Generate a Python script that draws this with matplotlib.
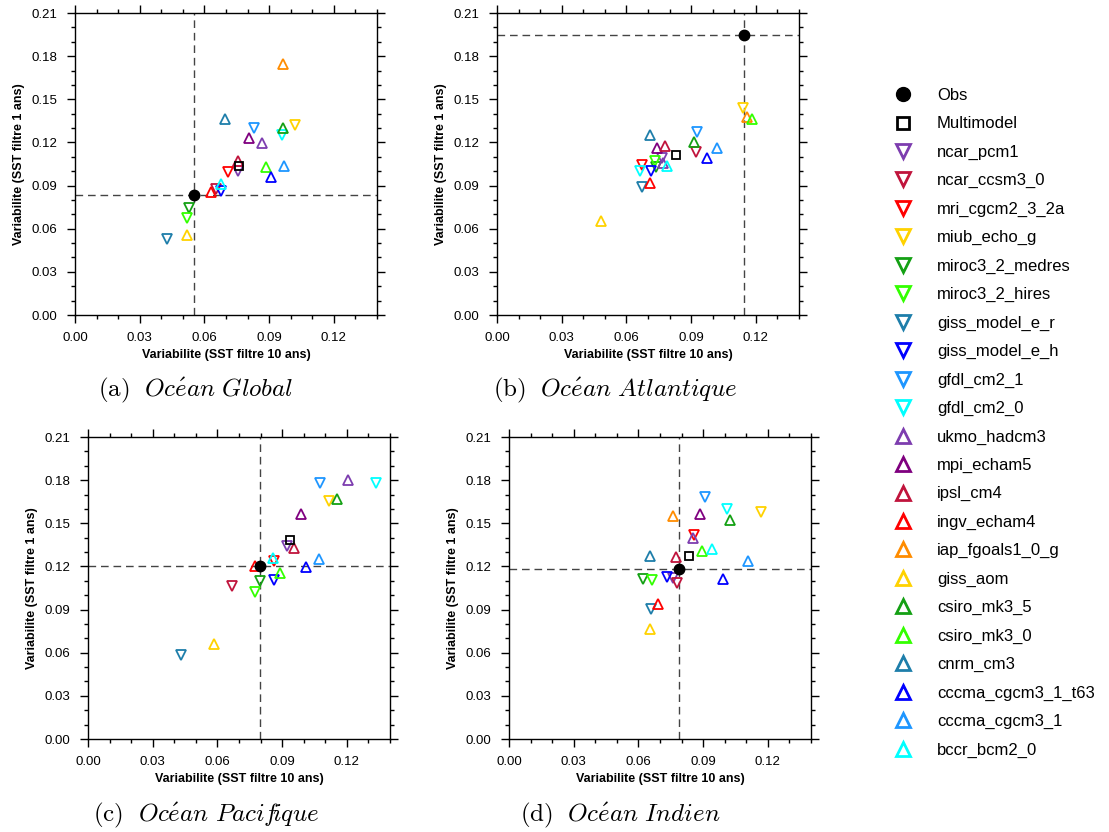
import numpy as np
import matplotlib
matplotlib.use("Agg")
import matplotlib.pyplot as plt
from matplotlib.lines import Line2D
from matplotlib.ticker import MultipleLocator, FormatStrFormatter

plt.rcParams['font.family'] = ['Liberation Sans', 'DejaVu Sans']
plt.rcParams['mathtext.fontset'] = 'cm'

# ---------------------------------------------------------------- models
models = ["ncar_pcm1", "ncar_ccsm3_0", "mri_cgcm2_3_2a", "miub_echo_g",
          "miroc3_2_medres", "miroc3_2_hires", "giss_model_e_r", "giss_model_e_h",
          "gfdl_cm2_1", "gfdl_cm2_0",
          "ukmo_hadcm3", "mpi_echam5", "ipsl_cm4", "ingv_echam4", "iap_fgoals1_0_g",
          "giss_aom", "csiro_mk3_5", "csiro_mk3_0", "cnrm_cm3", "cccma_cgcm3_1_t63",
          "cccma_cgcm3_1", "bccr_bcm2_0"]

model_colors = ["#7D3DAF", "#C0143C", "#FF0000", "#FFD200", "#14A014", "#33FF00",
                "#1E7EAA", "#0000FF", "#1E96FF", "#00FFFF",
                "#7D3DAF", "#7F007F", "#C0143C", "#FF0000", "#FF8C00", "#FFD200",
                "#14A014", "#33FF00", "#1E7EAA", "#0000FF", "#1E96FF", "#00FFFF"]

model_markers = ["v"] * 10 + ["^"] * 12

nan = np.nan

# ---------------------------------------------------------------- variability (x: 10-yr filter, y: 1-yr filter)
global_x10 = [0.0756, 0.0655, 0.0708, 0.1018, 0.0530, 0.0518, 0.0425, 0.0675, 0.0831, 0.0958,
              0.0865, 0.0807, 0.0756, 0.0629, 0.0966, 0.0518, 0.0966, 0.0884, 0.0694, 0.0910,
              0.0969, 0.0677]
global_y1 = [0.1003, 0.0876, 0.0996, 0.1323, 0.0742, 0.0674, 0.0531, 0.0864, 0.1298, 0.1254,
             0.1198, 0.1233, 0.1073, 0.0853, 0.1745, 0.0556, 0.1298, 0.1031, 0.1365, 0.0962,
             0.1038, 0.0909]

atlantic_x10 = [0.0763, 0.0924, 0.0674, 0.1141, 0.0739, 0.0733, 0.0674, 0.0716, 0.0926, 0.0665,
                0.0771, 0.0743, 0.0778, 0.0710, 0.1161, 0.0482, 0.0913, 0.1183, 0.0710, 0.0972,
                0.1019, 0.0786]
atlantic_y1 = [0.1090, 0.1131, 0.1045, 0.1439, 0.1031, 0.1073, 0.0888, 0.1001, 0.1273, 0.1003,
               0.1055, 0.1159, 0.1173, 0.0916, 0.1377, 0.0654, 0.1201, 0.1365, 0.1254, 0.1090,
               0.1159, 0.1038]

pacific_x10 = [0.0921, 0.0669, 0.0861, 0.1117, 0.0799, 0.0776, 0.0433, 0.0861, 0.1074, 0.1337,
               0.1205, 0.0987, 0.0954, 0.0773, nan, 0.0586, 0.1156, 0.0892, nan, 0.1011,
               0.1071, 0.0859]
pacific_y1 = [0.1342, 0.1066, 0.1240, 0.1653, 0.1099, 0.1020, 0.0582, 0.1106, 0.1778, 0.1778,
              0.1801, 0.1565, 0.1326, 0.1203, nan, 0.0663, 0.1671, 0.1157, nan, 0.1194,
              0.1252, 0.1257]

indian_x10 = [0.0762, 0.0780, 0.0856, 0.1168, 0.0623, 0.0663, 0.0660, 0.0734, 0.0910, 0.1009,
              0.0853, 0.0885, 0.0774, 0.0692, 0.0762, 0.0652, 0.1023, 0.0895, 0.0652, 0.0991,
              0.1108, 0.0941]
indian_y1 = [0.1120, 0.1083, 0.1416, 0.1581, 0.1113, 0.1106, 0.0904, 0.1129, 0.1685, 0.1601,
             0.1398, 0.1565, 0.1268, 0.0939, 0.1551, 0.0765, 0.1523, 0.1305, 0.1273, 0.1111,
             0.1240, 0.1323]

obs_x10 = [0.0553, 0.1146, 0.0799, 0.0790]
obs_y1 = [0.0837, 0.1949, 0.1205, 0.1180]
multi_x10 = [0.0760, 0.0828, 0.0936, 0.0834]
multi_y1 = [0.1038, 0.1110, 0.1386, 0.1273]

captions = [r"$\mathrm{(a)}\ \ \mathit{Oc\acute{e}an\ Global}$",
            r"$\mathrm{(b)}\ \ \mathit{Oc\acute{e}an\ Atlantique}$",
            r"$\mathrm{(c)}\ \ \mathit{Oc\acute{e}an\ Pacif\!ique}$",
            r"$\mathrm{(d)}\ \ \mathit{Oc\acute{e}an\ Indien}$"]
xlabel = "Variabilite (SST filtre 10 ans)"
ylabel = "Variabilite (SST filtre 1 ans)"

panels_x = [global_x10, atlantic_x10, pacific_x10, indian_x10]
panels_y = [global_y1, atlantic_y1, pacific_y1, indian_y1]

# ---------------------------------------------------------------- layout (pixels)
W, H = 1109, 832
fig = plt.figure(figsize=(W / 100, H / 100), dpi=100)

boxes = [(75, 13), (497, 13), (88, 437), (509, 437)]   # left, top of each axes
size = 302
caption_pos = [(196, 390), (615, 390), (206, 815), (620, 815)]

for i in range(4):
    x0, y0 = boxes[i]
    ax = fig.add_axes([x0 / W, 1 - (y0 + size) / H, size / W, size / H])
    ax.set_xlim(0, 0.14)
    ax.set_ylim(0, 0.21)
    ax.xaxis.set_major_locator(MultipleLocator(0.03))
    ax.xaxis.set_minor_locator(MultipleLocator(0.01))
    ax.yaxis.set_major_locator(MultipleLocator(0.03))
    ax.yaxis.set_minor_locator(MultipleLocator(0.01))
    ax.xaxis.set_major_formatter(FormatStrFormatter("%.2f"))
    ax.yaxis.set_major_formatter(FormatStrFormatter("%.2f"))
    ax.tick_params(which="both", direction="out", top=True, right=True,
                   labeltop=False, labelright=False, width=1.0, labelsize=9.5)
    ax.tick_params(which="major", length=6, pad=6.5)
    ax.tick_params(which="minor", length=3)
    for s in ax.spines.values():
        s.set_linewidth(1.0)

    # observed reference cross
    ax.axvline(obs_x10[i], color="#444444", lw=1.0, dashes=(5.5, 3.5), zorder=1)
    ax.axhline(obs_y1[i], color="#444444", lw=1.0, dashes=(5.5, 3.5), zorder=1)

    xs, ys = panels_x[i], panels_y[i]
    for k in range(len(models)):
        ax.plot(xs[k], ys[k], linestyle="none", marker=model_markers[k],
                markersize=6.5, markerfacecolor="none",
                markeredgecolor=model_colors[k], markeredgewidth=1.3, zorder=3)
    ax.plot(multi_x10[i], multi_y1[i], linestyle="none", marker="s", markersize=6.2,
            markerfacecolor="none", markeredgecolor="black", markeredgewidth=1.3, zorder=4)
    ax.plot(obs_x10[i], obs_y1[i], linestyle="none", marker="o", markersize=7.5,
            color="black", zorder=5)

    ax.set_xlabel(xlabel, fontsize=9, fontweight="bold", labelpad=3)
    ax.set_ylabel(ylabel, fontsize=9, fontweight="bold", labelpad=5)

    cx, cy = caption_pos[i]
    fig.text(cx / W, 1 - cy / H, captions[i], fontsize=18, ha="center", va="center")

# ---------------------------------------------------------------- legend
handles = [Line2D([], [], linestyle="none", marker="o", markersize=10, color="black"),
           Line2D([], [], linestyle="none", marker="s", markersize=9,
                  markerfacecolor="none", markeredgecolor="black", markeredgewidth=2)]
labels = ["Obs", "Multimodel"]
for k in range(len(models)):
    handles.append(Line2D([], [], linestyle="none", marker=model_markers[k], markersize=10,
                          markerfacecolor="none", markeredgecolor=model_colors[k],
                          markeredgewidth=2))
    labels.append(models[k])

fig.legend(handles, labels, loc="upper left", bbox_to_anchor=(893 / W, 1 - 88 / H),
           frameon=False, fontsize=12, borderpad=0, borderaxespad=0,
           handlelength=1.2, handletextpad=1.44, labelspacing=0.80)

fig.savefig("out.png", dpi=100)
